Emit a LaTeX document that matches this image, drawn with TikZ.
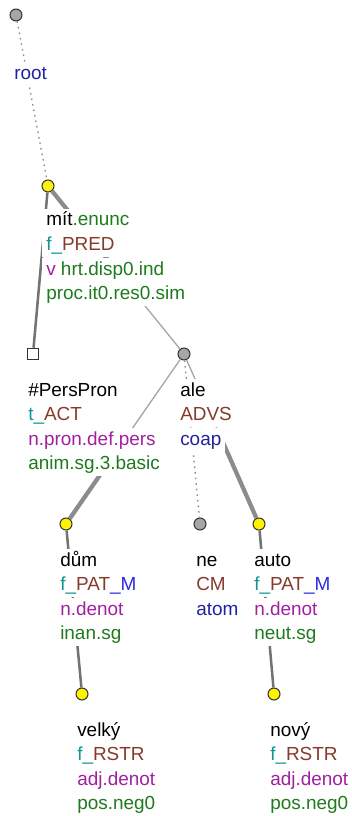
\documentclass[tikz,border=0pt]{standalone}
\usepackage{fontspec}
\setmainfont{Liberation Sans}
\usetikzlibrary{calc,positioning}
\definecolor{Green}{HTML}{1E7B1E}
\definecolor{Teal}{HTML}{109494}
\definecolor{Brown}{HTML}{853A2A}
\definecolor{Purple}{HTML}{A020A0}
\definecolor{Navy}{HTML}{22229E}
\definecolor{Blue}{HTML}{2A2AE6}
\definecolor{EdgeGray}{HTML}{8C8C8C}

\begin{document}
\begin{tikzpicture}[x=0.75pt,y=-0.75pt,font=\fontsize{14.2}{17}\selectfont,
    ynode/.style={circle,draw=black!80,fill=yellow,line width=.8pt,minimum size=9pt,inner sep=0pt},
    gnode/.style={circle,draw=black!80,fill=black!35,line width=.8pt,minimum size=9pt,inner sep=0pt},
    snode/.style={rectangle,draw=black!80,fill=white,line width=.9pt,minimum size=8.5pt,inner sep=0pt},
    tl/.style={anchor=base west,fill=white,inner xsep=3pt,inner ysep=0pt,text height=13pt,text depth=5pt},
    nl/.style={tl,anchor=north west},
    hairedge/.style={draw=black!35,line width=1pt},
    midedge/.style={draw=black!55,line width=1.9pt},
    fatedge/.style={draw=EdgeGray,line width=3.2pt},
    dotedge/.style={draw=black!45,line width=1pt,dash pattern=on 1.2pt off 3pt}]
  \useasboundingbox (0,0) rectangle (351,816);
  % tree nodes
  \node[gnode] (root) at (16,15) {};
  \node[ynode] (mit) at (48,186) {};
  \node[snode] (pers) at (33,354) {};
  \node[gnode] (ale) at (184,354) {};
  \node[ynode] (dum) at (66,524) {};
  \node[gnode] (ne) at (200,524) {};
  \node[ynode] (auto) at (259,524) {};
  \node[ynode] (velky) at (82,694) {};
  \node[ynode] (novy) at (274,694) {};
  % edges, split at the middle where the weight changes
  \coordinate (ma) at ($(mit)!.5!(ale)$);
  \coordinate (ad) at ($(ale)!.5!(dum)$);
  \coordinate (au) at ($(ale)!.5!(auto)$);
  \draw[dotedge] (root) -- (mit);
  \draw[midedge] (mit) -- (pers);
  \draw[fatedge] (mit) -- (ma);
  \draw[hairedge] (ma) -- (ale);
  \draw[hairedge] (ale) -- (ad);
  \draw[fatedge] (ad) -- (dum);
  \draw[dotedge] (ale) -- (ne);
  \draw[hairedge] (ale) -- (au);
  \draw[fatedge] (au) -- (auto);
  \draw[midedge] (dum) -- (velky);
  \draw[midedge] (auto) -- (novy);
  % labels
  \node[tl,text=Navy] (rootl) at (10,80) {root};

  \node[tl] (mit1) at (42,226) {mít{\color{Green}.enunc}};
  \node[nl] (mit2) at (mit1.south west) {{\color{Teal}f\_}{\color{Brown}PRED}};
  \node[nl] (mit3) at (mit2.south west) {{\color{Purple}v} {\color{Green}hrt.disp0.ind}};
  \node[nl,text=Green] (mit4) at (mit3.south west) {proc.it0.res0.sim};

  \node[tl] (pers1) at (24,396) {\#PersPron};
  \node[nl] (pers2) at (pers1.south west) {{\color{Teal}t\_}{\color{Brown}ACT}};
  \node[nl,text=Purple] (pers3) at (pers2.south west) {n.pron.def.pers};
  \node[nl,text=Green] (pers4) at (pers3.south west) {anim.sg.3.basic};

  \node[tl] (ale1) at (176,396) {ale};
  \node[nl,text=Brown] (ale2) at (ale1.south west) {ADVS};
  \node[nl,text=Navy] (ale3) at (ale2.south west) {coap};

  \node[tl] (dum1) at (56,566) {dům};
  \node[nl] (dum2) at (dum1.south west) {{\color{Teal}f\_}{\color{Brown}PAT}{\color{Blue}\_M}};
  \node[nl,text=Purple] (dum3) at (dum2.south west) {n.denot};
  \node[nl,text=Green] (dum4) at (dum3.south west) {inan.sg};

  \node[tl] (ne1) at (192,566) {ne};
  \node[nl,text=Brown] (ne2) at (ne1.south west) {CM};
  \node[nl,text=Navy] (ne3) at (ne2.south west) {atom};

  \node[tl] (auto1) at (250,566) {auto};
  \node[nl] (auto2) at (auto1.south west) {{\color{Teal}f\_}{\color{Brown}PAT}{\color{Blue}\_M}};
  \node[nl,text=Purple] (auto3) at (auto2.south west) {n.denot};
  \node[nl,text=Green] (auto4) at (auto3.south west) {neut.sg};

  \node[tl] (velky1) at (73,736) {velký};
  \node[nl] (velky2) at (velky1.south west) {{\color{Teal}f\_}{\color{Brown}RSTR}};
  \node[nl,text=Purple] (velky3) at (velky2.south west) {adj.denot};
  \node[nl,text=Green] (velky4) at (velky3.south west) {pos.neg0};

  \node[tl] (novy1) at (266,736) {nový};
  \node[nl] (novy2) at (novy1.south west) {{\color{Teal}f\_}{\color{Brown}RSTR}};
  \node[nl,text=Purple] (novy3) at (novy2.south west) {adj.denot};
  \node[nl,text=Green] (novy4) at (novy3.south west) {pos.neg0};
\end{tikzpicture}
\end{document}
